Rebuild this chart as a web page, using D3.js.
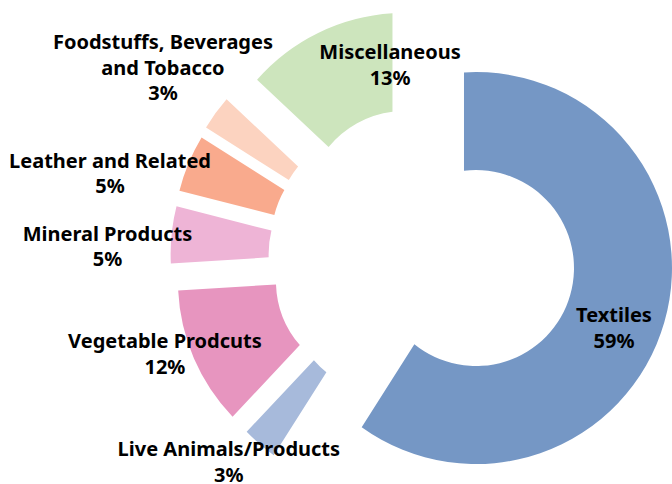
<!DOCTYPE html>
<html>
<head>
<meta charset="utf-8">
<script src="https://cdn.jsdelivr.net/npm/d3@7"></script>
<style>
  html, body { margin: 0; padding: 0; background: #fff; }
  svg { display: block; }
  text { font-family: "Noto Sans", "Open Sans", sans-serif; font-weight: 700; fill: #000; }
</style>
</head>
<body>
<div id="grafica"></div>
<script>
// datos
var categories = ["Textiles", "Live Animals/Products", "Vegetable Prodcuts", "Mineral Products",
                  "Leather and Related", "Foodstuffs, Beverages and Tobacco", "Miscellaneous"];
var shares = [59, 3, 12, 5, 5, 3, 13];
var labelLines = [["Textiles"], ["Live Animals/Products"], ["Vegetable Prodcuts"], ["Mineral Products"],
                  ["Leather and Related"], ["Foodstuffs, Beverages", "and Tobacco"], ["Miscellaneous"]];
var colors = ["#7597c5", "#a7badb", "#e795bf", "#eeb4d6", "#f9aa8d", "#fcd3c0", "#cde5bd"];

// explosion de cada porcion: distancia y giro respecto a la bisectriz (grados)
var explodeDist = [55.7, 55.5, 56.3, 55.9, 54.8, 54.1, 47.1];
var explodeTurn = [0, 0.6, -5.2, -6.9, -8.5, -11.5, 0.9];
// etiquetas: [angulo, distancia] desde el centro sin explosion
var labelPolar = [[111.5, 205.8], [222.8, 285], [248.5, 276.8], [271.1, 315.1], [284.2, 322.3], [305.5, 318.8], [350.2, 190.3]];

var W = 672, H = 484;
var cx = 422.5, cy = 252.5;   // centro sin explosion
var R = 196, r = 98;
var shift = [12, 2];          // los bordes salen de un vertice corrido a la izquierda
var fontSize = 20, lineH = 25.5;
var rad = Math.PI / 180;

var svg = d3.select("#grafica").append("svg")
    .attr("width", W).attr("height", H)
    .attr("viewBox", "0 0 " + W + " " + H);

var pie = d3.pie().value(function(d) { return d; }).sort(null);
var arcs = pie(shares);

function centre(a, i) {
  var dir = (a.startAngle + a.endAngle) / 2 + explodeTurn[i] * rad;
  return [cx + explodeDist[i] * Math.sin(dir), cy - explodeDist[i] * Math.cos(dir)];
}

function slicePath(a, i) {
  var o = centre(a, i);
  var vx = o[0] - shift[0], vy = o[1] - shift[1];
  function hit(t, rr) {
    var ux = Math.sin(t), uy = -Math.cos(t);
    var dx = vx - o[0], dy = vy - o[1];
    var b = dx * ux + dy * uy;
    var c = dx * dx + dy * dy - rr * rr;
    var k = -b + Math.sqrt(b * b - c);
    return [vx + k * ux, vy + k * uy];
  }
  function ang(p) { return Math.atan2(p[1] - o[1], p[0] - o[0]); }
  var o0 = hit(a.startAngle, R), o1 = hit(a.endAngle, R);
  var i1 = hit(a.endAngle, r), i0 = hit(a.startAngle, r);
  var p = d3.path();
  p.moveTo(o0[0], o0[1]);
  p.arc(o[0], o[1], R, ang(o0), ang(o1), false);
  p.lineTo(i1[0], i1[1]);
  p.arc(o[0], o[1], r, ang(i1), ang(i0), true);
  p.closePath();
  return p.toString();
}

svg.selectAll("path.slice")
  .data(arcs)
  .enter().append("path")
    .attr("class", "slice")
    .attr("d", slicePath)
    .attr("fill", function(d, i) { return colors[i]; });

// etiquetas
arcs.forEach(function(a, i) {
  var t = labelPolar[i][0] * rad, dist = labelPolar[i][1];
  var lx = cx + dist * Math.sin(t), ly = cy - dist * Math.cos(t);
  var lines = labelLines[i].concat([shares[i] + "%"]);
  var capH = fontSize * 0.714;
  var blockH = (lines.length - 1) * lineH + capH;
  var y0 = ly - blockH / 2 + capH;
  var txt = svg.append("text")
    .attr("text-anchor", "middle")
    .attr("font-size", fontSize);
  lines.forEach(function(s, j) {
    txt.append("tspan").attr("x", lx).attr("y", y0 + j * lineH).text(s);
  });
});
</script>
</body>
</html>
